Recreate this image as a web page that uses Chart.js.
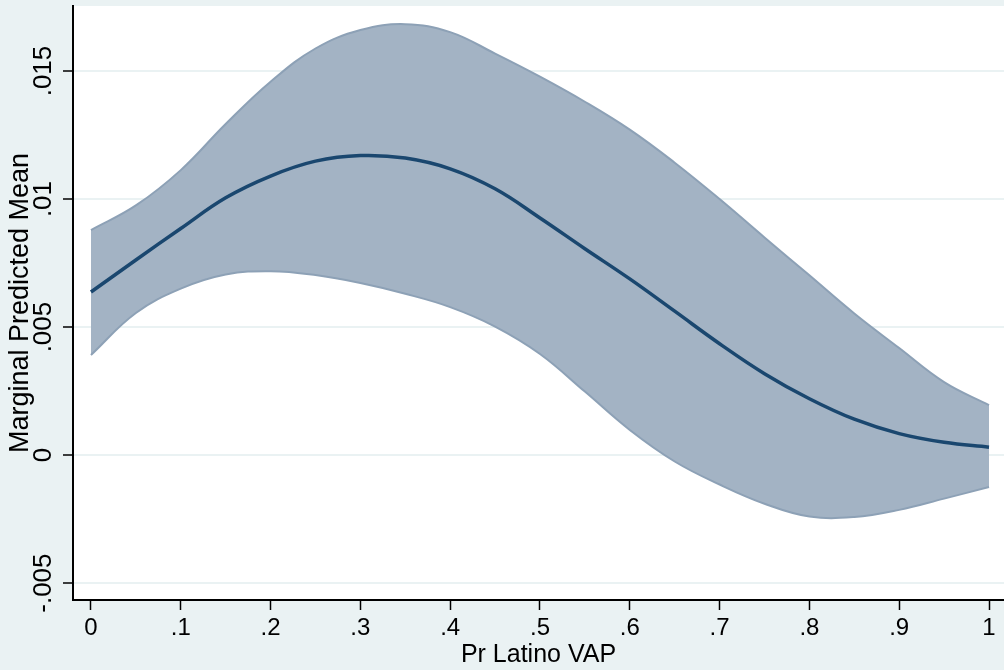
<!DOCTYPE html>
<html>
<head>
<meta charset="utf-8">
<script src="https://cdn.jsdelivr.net/npm/chart.js@4.4.1/dist/chart.umd.min.js"></script>
<style>
  html, body { margin: 0; padding: 0; background: #eaf2f3; }
  #wrap { width: 1004px; height: 670px; }
</style>
</head>
<body>
<div id="wrap"><canvas id="grafico"></canvas></div>
<script>
// Pr Latino VAP
var xVals = [0, 0.05, 0.1, 0.15, 0.2, 0.25, 0.3, 0.35, 0.4, 0.45, 0.5, 0.55, 0.6, 0.65, 0.7, 0.75, 0.8, 0.85, 0.9, 0.95, 1];
// marginal predicted mean and its confidence band
var meanVals  = [0.00637, 0.00762, 0.00885, 0.01005, 0.01090, 0.01148, 0.01170, 0.01160, 0.01118, 0.01040, 0.00926, 0.00806, 0.00688, 0.00562, 0.00435, 0.00318, 0.00220, 0.00140, 0.00084, 0.00050, 0.00031];
var upperVals = [0.00879, 0.00975, 0.01113, 0.01293, 0.01458, 0.01588, 0.01660, 0.01683, 0.01652, 0.01568, 0.01478, 0.01380, 0.01271, 0.01142, 0.01000, 0.00850, 0.00702, 0.00553, 0.00418, 0.00285, 0.00195];
var lowerVals = [0.00391, 0.00555, 0.00650, 0.00705, 0.00718, 0.00703, 0.00672, 0.00630, 0.00578, 0.00502, 0.00395, 0.00248, 0.00098, -0.00025, -0.00115, -0.00190, -0.00240, -0.00242, -0.00214, -0.00170, -0.00125];

var yTickVals = [-0.005, 0, 0.005, 0.01, 0.015];
var yTickLabels = ['-.005', '0', '.005', '.01', '.015'];
var xTickVals = [0, 0.1, 0.2, 0.3, 0.4, 0.5, 0.6, 0.7, 0.8, 0.9, 1];
var xTickLabels = ['0', '.1', '.2', '.3', '.4', '.5', '.6', '.7', '.8', '.9', '1'];

function pontos(vals) {
    return xVals.map(function (x, i) { return { x: x, y: vals[i] }; });
}

var fundoBranco = {
    id: 'fundoBranco',
    beforeDraw: function (chart) {
        var a = chart.chartArea;
        var ctx = chart.ctx;
        ctx.save();
        ctx.fillStyle = '#ffffff';
        ctx.fillRect(a.left, a.top, a.right - a.left, a.bottom - a.top);
        ctx.restore();
    }
};

var fonte = "'Liberation Sans', Arial, sans-serif";

var ctx = document.getElementById('grafico').getContext('2d');
var grafico = new Chart(ctx, {
    type: 'line',
    data: {
        datasets: [
            {
                label: 'upper',
                data: pontos(upperVals),
                borderColor: '#8da1b6',
                borderWidth: 2,
                backgroundColor: '#a3b3c4',
                fill: '+1',
                pointRadius: 0,
                tension: 0.4,
                order: 3
            },
            {
                label: 'lower',
                data: pontos(lowerVals),
                borderColor: '#8da1b6',
                borderWidth: 2,
                fill: false,
                pointRadius: 0,
                tension: 0.4,
                order: 2
            },
            {
                label: 'mean',
                data: pontos(meanVals),
                borderColor: '#1a476f',
                borderWidth: 3.5,
                fill: false,
                pointRadius: 0,
                tension: 0.4,
                order: 1
            }
        ]
    },
    options: {
        responsive: true,
        maintainAspectRatio: false,
        animation: false,
        layout: { padding: { top: 6, right: 0, left: 0, bottom: 0 } },
        plugins: {
            legend: { display: false },
            tooltip: { enabled: false }
        },
        scales: {
            x: {
                type: 'linear',
                min: -0.02,
                max: 1.0167,
                afterBuildTicks: function (s) { s.ticks = xTickVals.map(function (v) { return { value: v }; }); },
                afterFit: function (s) { s.height = 70; s.paddingLeft = 0; s.paddingRight = 0; },
                ticks: {
                    autoSkip: false,
                    maxRotation: 0,
                    padding: 4,
                    color: '#000',
                    font: { family: fonte, size: 24 },
                    callback: function (v) { return xTickLabels[xTickVals.indexOf(v)]; }
                },
                grid: { drawOnChartArea: false, tickLength: 10, tickColor: '#000', tickWidth: 1.5 },
                border: { display: true, color: '#000', width: 2 },
                title: {
                    display: true,
                    text: 'Pr Latino VAP',
                    color: '#000',
                    font: { family: fonte, size: 25 },
                    padding: { top: 0, bottom: 0 }
                }
            },
            y: {
                type: 'linear',
                min: -0.00566,
                max: 0.01754,
                afterBuildTicks: function (s) { s.ticks = yTickVals.map(function (v) { return { value: v }; }); },
                afterFit: function (s) { s.width = 73; s.paddingTop = 0; s.paddingBottom = 0; },
                ticks: {
                    autoSkip: false,
                    minRotation: 90,
                    maxRotation: 90,
                    crossAlign: 'center',
                    padding: -10,
                    color: '#000',
                    font: { family: fonte, size: 26 },
                    callback: function (v) { return yTickLabels[yTickVals.indexOf(v)]; }
                },
                grid: { color: '#eaf2f3', lineWidth: 2, tickLength: 10, tickColor: '#000', tickWidth: 1.5 },
                border: { display: true, color: '#000', width: 2 },
                title: {
                    display: true,
                    text: 'Marginal Predicted Mean',
                    color: '#000',
                    font: { family: fonte, size: 27 },
                    padding: { top: 4, bottom: 0 }
                }
            }
        }
    },
    plugins: [fundoBranco]
});
</script>
</body>
</html>
